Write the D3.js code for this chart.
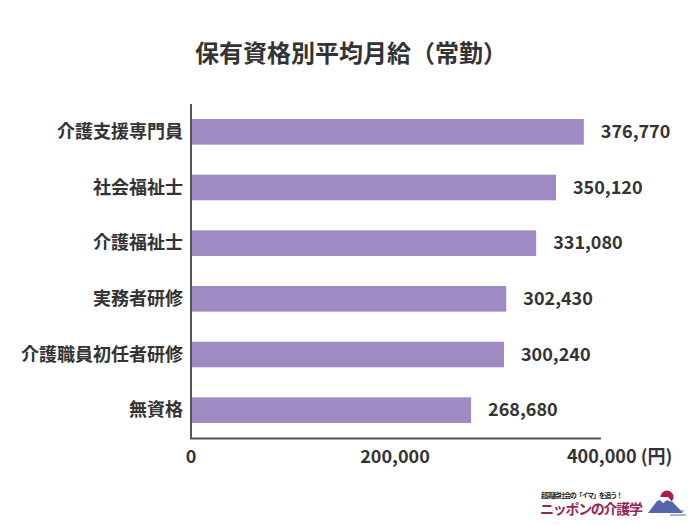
<!DOCTYPE html>
<html><head><meta charset="utf-8">
<script src="https://cdn.jsdelivr.net/npm/d3@7"></script>
<style>
body{margin:0;background:#fff;}
text{font-family:"Noto Sans CJK JP","Noto Sans",sans-serif;}
</style></head>
<body><svg id="c" width="700" height="525"></svg>
<script>
const categories = ["介護支援専門員","社会福祉士","介護福祉士","実務者研修","介護職員初任者研修","無資格"];
const values = [376770, 350120, 331080, 302430, 300240, 268680];
const tickValues = [0, 200000, 400000];
const tickLabels = ["0", "200,000", "400,000 (円)"];
const title = "保有資格別平均月給（常勤）";

const svg = d3.select("#c");
const x = d3.scaleLinear().domain([0, 400000]).range([191, 608]);
const xAxisScale = d3.scaleLinear().domain([0, 400000]).range([191, 599]);
const y = d3.scaleBand().domain(categories).range([104, 438]).paddingInner(0.54).paddingOuter(0.27);

svg.append("text").attr("x", 351).attr("y", 62).attr("text-anchor", "middle")
  .attr("font-size", 24).attr("font-weight", 700).attr("fill", "#333").text(title);

svg.selectAll("rect.bar").data(values).enter().append("rect")
  .attr("class", "bar")
  .attr("x", x(0)).attr("y", (d, i) => y(categories[i]))
  .attr("width", d => x(d) - x(0)).attr("height", y.bandwidth())
  .attr("fill", "#a08ac4");

svg.selectAll("text.val").data(values).enter().append("text")
  .attr("class", "val")
  .attr("x", d => x(d) + 17).attr("y", (d, i) => y(categories[i]) + y.bandwidth() / 2)
  .attr("dy", "0.35em").attr("font-size", 18).attr("font-weight", 700).attr("fill", "#333")
  .text(d => d3.format(",")(d));

svg.selectAll("text.cat").data(categories).enter().append("text")
  .attr("class", "cat")
  .attr("x", 183).attr("y", d => y(d) + y.bandwidth() / 2)
  .attr("dy", "0.35em").attr("text-anchor", "end").attr("font-size", 18).attr("font-weight", 700).attr("fill", "#333")
  .text(d => d);

// axes lines
svg.append("line").attr("x1", 191).attr("x2", 191).attr("y1", 104).attr("y2", 439)
  .attr("stroke", "#555").attr("stroke-width", 2);
svg.append("line").attr("x1", 190).attr("x2", 601).attr("y1", 438.5).attr("y2", 438.5)
  .attr("stroke", "#555").attr("stroke-width", 2);

const lastIdx = tickValues.length - 1;
svg.selectAll("text.tick").data(tickValues).enter().append("text")
  .attr("class", "tick")
  .attr("x", (d, i) => i === lastIdx ? xAxisScale(d) - 32 : xAxisScale(d))
  .attr("y", 463)
  .attr("text-anchor", (d, i) => i === lastIdx ? "start" : "middle")
  .attr("font-size", 18).attr("font-weight", 700).attr("fill", "#333")
  .text((d, i) => tickLabels[i]);

// logo
const g = svg.append("g");
g.append("text").attr("x", 541).attr("y", 497.5).attr("font-size", 7).attr("font-weight", 700)
  .attr("fill", "#222").attr("textLength", 82).text("超高齢社会の「イマ」を追う！");
g.append("text").attr("x", 540).attr("y", 514).attr("font-size", 14).attr("font-weight", 700)
  .attr("fill", "#9c1f55").attr("textLength", 103).text("ニッポンの介護学");
g.append("circle").attr("cx", 667).attr("cy", 497).attr("r", 6.5).attr("fill", "#b0194a");
g.append("path").attr("d", "M648,513 L660,497 L668,497 L683,513 Z").attr("fill", "#5566b0");
g.append("path").attr("d", "M657,501 L660,497 L668,497 L672,502 L667,500 L663,503 L660,500 Z").attr("fill", "#fff");
g.append("path").attr("d", "M664,511 L684,511 M670,515 L686,515").attr("stroke", "#5566b0").attr("stroke-width", 1);
</script></body></html>
